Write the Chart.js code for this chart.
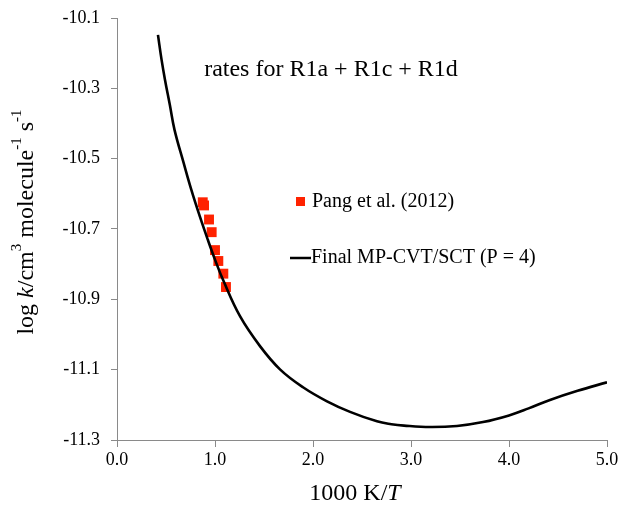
<!DOCTYPE html>
<html>
<head>
<meta charset="utf-8">
<script src="https://cdn.jsdelivr.net/npm/chart.js@4.4.0/dist/chart.umd.min.js"></script>
<style>
html,body{margin:0;padding:0;background:#fff;}
#wrap{width:625px;height:512px;}
</style>
</head>
<body>
<div id="wrap"><canvas id="c" width="625" height="512"></canvas></div>
<script>
// ---- data ----
const curveX = [0.418,0.455,0.490,0.539,0.587,0.680,0.758,0.846,0.926,1.0,1.084,1.255,1.459,1.663,1.898,2.143,2.378,2.653,2.8,2.929,3.194,3.469,3.735,4.0,4.2,4.418,4.7,5.0];
const curveY = [-10.148,-10.219,-10.276,-10.347,-10.418,-10.512,-10.588,-10.665,-10.730,-10.787,-10.846,-10.948,-11.033,-11.099,-11.150,-11.190,-11.220,-11.247,-11.255,-11.259,-11.263,-11.260,-11.249,-11.230,-11.210,-11.186,-11.160,-11.136];
const pangX = [0.875,0.888,0.939,0.966,1.0,1.034,1.085,1.112];
const pangY = [-10.624,-10.633,-10.673,-10.709,-10.760,-10.791,-10.827,-10.865];
const xTicks = [0.0,1.0,2.0,3.0,4.0,5.0];
const yTicks = [-10.1,-10.3,-10.5,-10.7,-10.9,-11.1,-11.3];
const titleText = 'rates for R1a + R1c + R1d';
const legendLabels = ['Pang et al. (2012)', 'Final MP-CVT/SCT (P = 4)'];

const SERIF = '"Liberation Serif", "Times New Roman", serif';
const RED = '#ff2200';
const AXIS = '#8a8a8a';

function drawRich(ctx, segs, x, y, size, align) {
  // segs: [text, italic, sup]
  const parts = segs.map(s => {
    const fs = s[2] ? Math.round(size * 0.62) : size;
    const font = (s[1] ? 'italic ' : '') + fs + 'px ' + SERIF;
    ctx.font = font;
    return {t: s[0], font, w: ctx.measureText(s[0]).width, dy: s[2] ? -size * 0.4 : 0};
  });
  const total = parts.reduce((a, p) => a + p.w, 0);
  let cx = align === 'center' ? x - total / 2 : x;
  ctx.textBaseline = 'middle';
  ctx.textAlign = 'left';
  parts.forEach(p => {
    ctx.font = p.font;
    ctx.fillText(p.t, cx, y + p.dy);
    cx += p.w;
  });
}

const annot = {
  id: 'annot',
  afterDatasetsDraw(chart) {
    const ctx = chart.ctx;
    ctx.save();
    ctx.fillStyle = '#000';
    // title inside plot
    drawRich(ctx, [[titleText, false, false]], 331, 70, 24, 'center');
    // legend
    ctx.fillStyle = RED;
    ctx.fillRect(296, 197, 9, 9);
    ctx.fillStyle = '#000';
    drawRich(ctx, [[legendLabels[0], false, false]], 312, 202, 20, 'left');
    ctx.strokeStyle = '#000';
    ctx.lineWidth = 2.5;
    ctx.beginPath(); ctx.moveTo(290, 258); ctx.lineTo(311, 258); ctx.stroke();
    drawRich(ctx, [[legendLabels[1], false, false]], 311, 258, 20, 'left');
    // x axis title
    drawRich(ctx, [['1000 K/', false, false], ['T', true, false]], 355, 494, 24, 'center');
    // y axis title (rotated)
    ctx.translate(27, 222);
    ctx.rotate(-Math.PI / 2);
    drawRich(ctx, [['log ', false, false], ['k', true, false], ['/cm', false, false], ['3', false, true],
                   [' molecule', false, false], ['-1', false, true], [' s', false, false], ['-1', false, true]],
             0, 0, 24, 'center');
    ctx.restore();
  }
};

new Chart(document.getElementById('c'), {
  type: 'scatter',
  data: {
    datasets: [
      {
        label: legendLabels[1],
        data: curveX.map((x, i) => ({x, y: curveY[i]})),
        showLine: true,
        borderColor: '#000',
        borderWidth: 2.6,
        pointRadius: 0,
        tension: 0.4,
        fill: false
      },
      {
        label: legendLabels[0],
        data: pangX.map((x, i) => ({x, y: pangY[i]})),
        showLine: false,
        backgroundColor: RED,
        borderColor: RED,
        borderWidth: 0,
        pointStyle: 'rect',
        pointRadius: 7
      }
    ]
  },
  options: {
    responsive: false,
    animation: false,
    devicePixelRatio: 1,
    layout: {padding: {left: 0, right: 18, top: 18, bottom: 0}},
    plugins: {legend: {display: false}, tooltip: {enabled: false}, title: {display: false}},
    scales: {
      x: {
        type: 'linear', min: 0, max: 5,
        afterBuildTicks: s => { s.ticks = xTicks.map(v => ({value: v})); },
        afterFit: s => { s.height = 72; },
        grid: {drawOnChartArea: false, drawTicks: true, tickLength: 7, color: AXIS, offset: false},
        border: {display: true, color: AXIS, width: 1},
        ticks: {color: '#000', font: {family: SERIF, size: 18}, padding: 2, maxRotation: 0,
                callback: v => v.toFixed(1)}
      },
      y: {
        type: 'linear', min: -11.3, max: -10.1,
        afterBuildTicks: s => { s.ticks = yTicks.map(v => ({value: v})); },
        afterFit: s => { s.width = 117; s.paddingTop = 0; s.paddingBottom = 0; },
        grid: {drawOnChartArea: false, drawTicks: true, tickLength: 6, color: AXIS},
        border: {display: true, color: AXIS, width: 1},
        ticks: {color: '#000', font: {family: SERIF, size: 18}, padding: 11,
                callback: v => v.toFixed(1)}
      }
    }
  },
  plugins: [annot]
});
</script>
</body>
</html>
